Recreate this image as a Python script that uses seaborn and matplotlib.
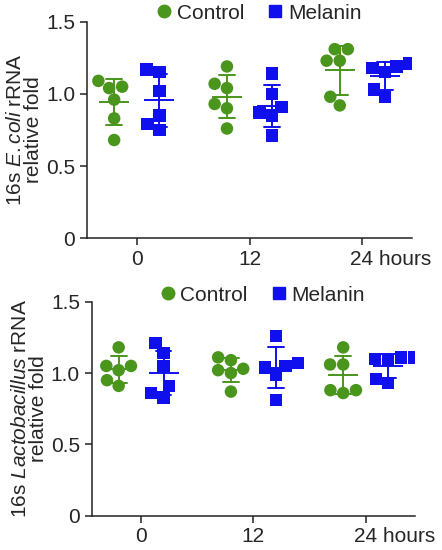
import numpy as np
import pandas as pd
import matplotlib
matplotlib.use('Agg')
import matplotlib.pyplot as plt
import matplotlib.transforms as mtransforms
import seaborn as sns
from matplotlib.lines import Line2D

# categories
times = ['0', '12', '24 hours']
groups = ['Control', 'Melanin']

# 16s E.coli rRNA relative fold, 6 per group
ecoli_control_0 = [1.09, 1.05, 1.04, 0.96, 0.83, 0.68]
ecoli_control_12 = [1.19, 1.07, 1.04, 0.93, 0.90, 0.76]
ecoli_control_24 = [1.31, 1.31, 1.23, 1.23, 0.98, 0.92]
ecoli_melanin_0 = [1.17, 1.15, 1.02, 0.85, 0.79, 0.75]
ecoli_melanin_12 = [1.14, 1.00, 0.91, 0.87, 0.85, 0.71]
ecoli_melanin_24 = [1.21, 1.19, 1.18, 1.15, 1.03, 0.98]

# 16s Lactobacillus rRNA relative fold
lacto_control_0 = [1.18, 1.05, 1.05, 1.02, 0.95, 0.91]
lacto_control_12 = [1.11, 1.09, 1.03, 1.02, 1.00, 0.87]
lacto_control_24 = [1.18, 1.06, 1.06, 0.88, 0.88, 0.86]
lacto_melanin_0 = [1.21, 1.14, 1.05, 0.91, 0.86, 0.83]
lacto_melanin_12 = [1.26, 1.07, 1.05, 1.04, 0.99, 0.81]
lacto_melanin_24 = [1.11, 1.11, 1.10, 1.09, 0.96, 0.93]

yticks = [0, 0.5, 1.0, 1.5]
ytick_labels = ['0', '0.5', '1.0', '1.5']

green = '#4a961c'
blue = '#1010ee'
pal = {'Control': green, 'Melanin': blue}


def make_df(ctrl, mel):
    rows = []
    for t, vals in zip(times, ctrl):
        for v in vals:
            rows.append((t, 'Control', v))
    for t, vals in zip(times, mel):
        for v in vals:
            rows.append((t, 'Melanin', v))
    return pd.DataFrame(rows, columns=['time', 'group', 'value'])


df_ecoli = make_df([ecoli_control_0, ecoli_control_12, ecoli_control_24],
                   [ecoli_melanin_0, ecoli_melanin_12, ecoli_melanin_24])
df_lacto = make_df([lacto_control_0, lacto_control_12, lacto_control_24],
                   [lacto_melanin_0, lacto_melanin_12, lacto_melanin_24])

sns.set_style('ticks')
plt.rcParams['font.family'] = ['Liberation Sans', 'DejaVu Sans']
plt.rcParams['mathtext.fontset'] = 'custom'
plt.rcParams['mathtext.rm'] = 'Liberation Sans'
plt.rcParams['mathtext.it'] = 'Liberation Sans:italic'

fig = plt.figure(figsize=(4.42, 5.5), dpi=100)
ax1 = fig.add_axes([0.197, 0.567, 0.735, 0.3935])
ax2 = fig.add_axes([0.2075, 0.0624, 0.7315, 0.389])


def draw_panel(ax, df, ylabel, leg_x, leg_y):
    for g, m in zip(groups, ['o', 's']):
        sns.swarmplot(data=df[df['group'] == g], x='time', y='value', hue='group',
                      order=times, hue_order=groups, palette=pal, dodge=True,
                      marker=m, size=9, linewidth=0, legend=False, ax=ax, zorder=2)
    sns.pointplot(data=df, x='time', y='value', hue='group', order=times,
                  hue_order=groups, palette=pal, dodge=0.4, errorbar='sd',
                  capsize=0.14, markers='_', markersize=21, markeredgewidth=1.4,
                  linestyle='none', err_kws={'linewidth': 1.4}, legend=False, ax=ax)
    for ln in ax.lines:
        ln.set_zorder(3)
    ax.set_xlim(-0.44, 2.44)
    ax.set_ylim(0, 1.5)
    ax.set_yticks(yticks)
    ax.set_yticklabels(ytick_labels)
    ax.set_xlabel('')
    ax.set_ylabel(ylabel, fontsize=15, linespacing=0.95)
    ax.yaxis.set_label_coords(-0.135, 0.5)
    ax.tick_params(labelsize=15, length=5, width=1.1, color='#222222')
    for s in ['left', 'bottom']:
        ax.spines[s].set_linewidth(1.1)
        ax.spines[s].set_color('#222222')
    sns.despine(ax=ax)
    # "24 hours": keep "24" centred under its tick
    last = ax.get_xticklabels()[-1]
    last.set_ha('left')
    last.set_transform(last.get_transform() +
                       mtransforms.ScaledTranslation(-12 / 100, 0, fig.dpi_scale_trans))
    handles = [Line2D([], [], marker='o', color=green, linestyle='none', markersize=9),
               Line2D([], [], marker='s', color=blue, linestyle='none', markersize=9)]
    ax.legend(handles, groups, loc='center', bbox_to_anchor=(leg_x, leg_y), ncol=2,
              frameon=False, fontsize=15, handletextpad=0.1, columnspacing=1.0,
              handlelength=1.0, borderaxespad=0)


draw_panel(ax1, df_ecoli, '16s $\\mathit{E.coli}$ rRNA\nrelative fold', 0.525, 1.04)
draw_panel(ax2, df_lacto, '16s $\\mathit{Lactobacillus}$ rRNA\nrelative fold', 0.524, 1.031)

fig.savefig('out.png', dpi=100)
